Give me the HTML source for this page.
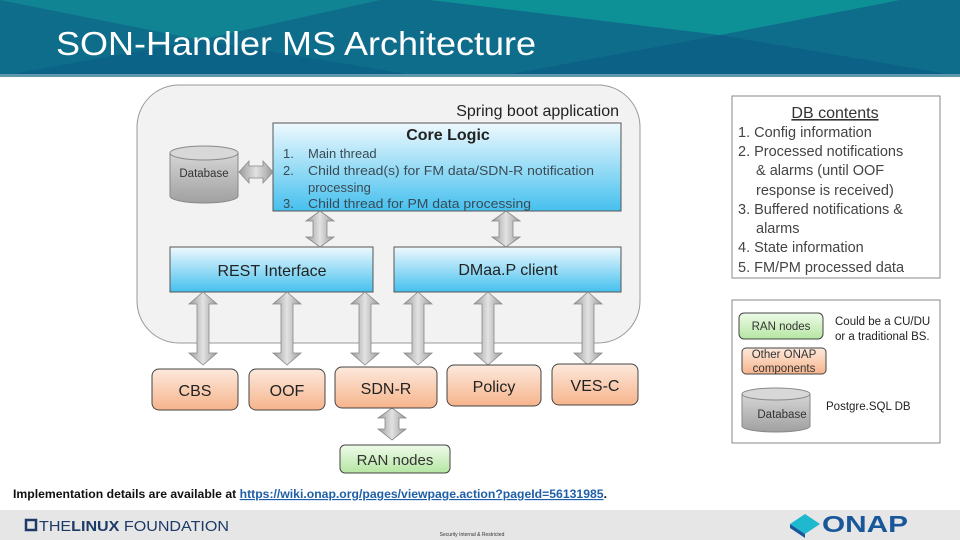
<!DOCTYPE html>
<html><head><meta charset="utf-8"><style>
body{margin:0;width:960px;height:540px;overflow:hidden;background:#fff;font-family:"Liberation Sans",sans-serif}
svg{display:block}
</style></head><body>
<svg width="960" height="540" viewBox="0 0 960 540" xmlns="http://www.w3.org/2000/svg" font-family="Liberation Sans, sans-serif">
<defs>
<linearGradient id="blue" x1="0" y1="0" x2="0" y2="1"><stop offset="0" stop-color="#eef9fe"/><stop offset="1" stop-color="#45c0ee"/></linearGradient>
<linearGradient id="orange" x1="0" y1="0" x2="0" y2="1"><stop offset="0" stop-color="#fde9dc"/><stop offset="1" stop-color="#f6b48c"/></linearGradient>
<linearGradient id="green" x1="0" y1="0" x2="0" y2="1"><stop offset="0" stop-color="#eefbe9"/><stop offset="1" stop-color="#b5e6a2"/></linearGradient>
<linearGradient id="gray" x1="0" y1="0" x2="1" y2="0"><stop offset="0" stop-color="#9a9a9a"/><stop offset="0.5" stop-color="#e2e2e2"/><stop offset="1" stop-color="#9a9a9a"/></linearGradient>
<linearGradient id="cyl" x1="0" y1="0" x2="0" y2="1"><stop offset="0" stop-color="#d6d6d6"/><stop offset="1" stop-color="#a0a0a0"/></linearGradient>
</defs>
<!-- header -->
<rect x="0" y="0" width="960" height="76" fill="#0f6d8c"/>
<polygon points="0,0 380,0 200,40" fill="#138f96" opacity="0.7"/>
<polygon points="430,0 900,0 720,35" fill="#0e9a98" opacity="0.8"/>
<polygon points="0,76 200,40 420,76" fill="#0b5f86" opacity="0.7"/>
<polygon points="500,76 720,35 960,76" fill="#0b5d85" opacity="0.7"/>
<rect x="0" y="74" width="960" height="3" fill="#5f98ad"/>
<text x="56" y="55" font-size="33" fill="#fff" textLength="480" lengthAdjust="spacingAndGlyphs">SON-Handler MS Architecture</text>

<!-- big container -->
<rect x="137" y="85" width="503" height="258" rx="42" fill="#f2f2f2" stroke="#999" stroke-width="1"/>
<text x="619" y="116" font-size="16" fill="#222" text-anchor="end">Spring boot application</text>

<!-- core logic -->
<rect x="273" y="123" width="348" height="88" fill="url(#blue)" stroke="#555" stroke-width="1"/>
<text x="448" y="140" font-size="16" font-weight="bold" text-anchor="middle" fill="#222">Core Logic</text>
<g font-size="13" fill="#3a4a55">
<text x="283" y="158">1.</text><text x="308" y="158">Main thread</text>
<text x="283" y="175">2.</text><text x="308" y="175" textLength="286" lengthAdjust="spacingAndGlyphs">Child thread(s) for FM data/SDN-R notification</text>
<text x="308" y="192">processing</text>
<text x="283" y="208">3.</text><text x="308" y="208" textLength="223" lengthAdjust="spacingAndGlyphs">Child thread for PM data processing</text>
</g>
<!-- database -->
<path d="M170,153 L170,196 A34,7 0 0 0 238,196 L238,153 Z" fill="url(#cyl)" stroke="#888"/>
<ellipse cx="204" cy="153" rx="34" ry="7" fill="#d8d8d8" stroke="#888"/>
<text x="204" y="177" font-size="11.5" text-anchor="middle" fill="#333">Database</text>
<path d="M239,172 L249,161 L249,166 L263,166 L263,161 L273,172 L263,183 L263,178 L249,178 L249,183 Z" fill="url(#gray)" stroke="#888" stroke-width="0.8"/>

<!-- REST / DMaaP -->
<rect x="170" y="247" width="203" height="45" fill="url(#blue)" stroke="#555"/>
<text x="272" y="276" font-size="16" text-anchor="middle" fill="#222">REST Interface</text>
<rect x="394" y="247" width="227" height="45" fill="url(#blue)" stroke="#555"/>
<text x="508" y="275" font-size="16" text-anchor="middle" fill="#222">DMaa.P client</text>

<g fill="url(#gray)" stroke="#888" stroke-width="0.8">
<path d="M320,211 L334,221 L327,221 L327,237 L334,237 L320,247 L306,237 L313,237 L313,221 L306,221 Z"/>
<path d="M506,211 L520,221 L513,221 L513,237 L520,237 L506,247 L492,237 L499,237 L499,221 L492,221 Z"/>
<path d="M203,292 L217,304 L209,304 L209,353 L217,353 L203,365 L189,353 L197,353 L197,304 L189,304 Z"/>
<path d="M287,292 L301,304 L293,304 L293,353 L301,353 L287,365 L273,353 L281,353 L281,304 L273,304 Z"/>
<path d="M365,292 L379,304 L371,304 L371,353 L379,353 L365,365 L351,353 L359,353 L359,304 L351,304 Z"/>
<path d="M418,292 L432,304 L424,304 L424,353 L432,353 L418,365 L404,353 L412,353 L412,304 L404,304 Z"/>
<path d="M488,292 L502,304 L494,304 L494,353 L502,353 L488,365 L474,353 L482,353 L482,304 L474,304 Z"/>
<path d="M588,292 L602,304 L594,304 L594,353 L602,353 L588,365 L574,353 L582,353 L582,304 L574,304 Z"/>
<path d="M392,408 L406,418 L399,418 L399,429 L406,429 L392,440 L378,429 L385,429 L385,418 L378,418 Z"/>
</g>

<!-- ONAP components -->
<g stroke="#444" stroke-width="1" fill="url(#orange)">
<rect x="152" y="369" width="86" height="41" rx="7"/>
<rect x="249" y="369" width="76" height="41" rx="7"/>
<rect x="335" y="367" width="102" height="41" rx="7"/>
<rect x="447" y="365" width="94" height="41" rx="7"/>
<rect x="552" y="364" width="86" height="41" rx="7"/>
</g>
<g font-size="16" text-anchor="middle" fill="#222">
<text x="195" y="396">CBS</text>
<text x="287" y="396">OOF</text>
<text x="386" y="394">SDN-R</text>
<text x="494" y="392">Policy</text>
<text x="595" y="391">VES-C</text>
</g>
<rect x="340" y="445" width="110" height="28" rx="5" fill="url(#green)" stroke="#444"/>
<text x="395" y="465" font-size="15" text-anchor="middle" fill="#333">RAN nodes</text>

<!-- DB contents -->
<rect x="732" y="96" width="208" height="182" fill="#fff" stroke="#888"/>
<text x="835" y="118" font-size="16" text-anchor="middle" fill="#333" text-decoration="underline">DB contents</text>
<g font-size="14.5" fill="#444">
<text x="738" y="137">1. Config information</text>
<text x="738" y="156">2. Processed notifications</text>
<text x="756" y="175">&amp; alarms (until OOF</text>
<text x="756" y="195">response is received)</text>
<text x="738" y="214">3. Buffered notifications &amp;</text>
<text x="756" y="233">alarms</text>
<text x="738" y="252">4. State information</text>
<text x="738" y="272">5. FM/PM processed data</text>
</g>

<!-- legend -->
<rect x="732" y="300" width="208" height="143" fill="#fff" stroke="#888"/>
<rect x="739" y="313" width="84" height="26" rx="5" fill="url(#green)" stroke="#444"/>
<text x="781" y="330" font-size="11.5" text-anchor="middle" fill="#333">RAN nodes</text>
<text x="835" y="325" font-size="11.5" fill="#222">Could be a CU/DU</text>
<text x="835" y="340" font-size="11.5" fill="#222">or a traditional BS.</text>
<rect x="742" y="348" width="84" height="26" rx="4" fill="url(#orange)" stroke="#444"/>
<text x="784" y="358" font-size="11.5" text-anchor="middle" fill="#333">Other ONAP</text>
<text x="784" y="372" font-size="11.5" text-anchor="middle" fill="#333">components</text>
<path d="M742,394 L742,426 A34,6 0 0 0 810,426 L810,394 Z" fill="url(#cyl)" stroke="#888"/>
<ellipse cx="776" cy="394" rx="34" ry="6" fill="#d8d8d8" stroke="#888"/>
<text x="782" y="418" font-size="11.5" text-anchor="middle" fill="#333">Database</text>
<text x="826" y="410" font-size="11.5" fill="#222">Postgre.SQL DB</text>

<!-- footer -->
<text x="13" y="498" font-size="11.5" font-weight="bold" fill="#111" textLength="594" lengthAdjust="spacingAndGlyphs">Implementation details are available at <tspan fill="#1f5fa8" text-decoration="underline">https://wiki.onap.org/pages/viewpage.action?pageId=56131985</tspan>.</text>
<rect x="0" y="510" width="960" height="30" fill="#e6e6e6"/>
<rect x="26" y="520" width="10" height="10" fill="none" stroke="#1d3b66" stroke-width="2.5"/>
<text x="39" y="531" font-size="15" fill="#1d3b66" textLength="190" lengthAdjust="spacingAndGlyphs">THE<tspan font-weight="bold">LINUX</tspan> FOUNDATION</text>
<text x="472" y="536" font-size="5" fill="#333" text-anchor="middle">Security Internal &amp; Restricted</text>
<polygon points="790,524 805,514 820,524 805,534" fill="#1eb8cf"/>
<polygon points="790,524 805,534 805,538 790,528" fill="#17579a"/>
<text x="822" y="532" font-size="23" font-weight="bold" fill="#17579a" textLength="86" lengthAdjust="spacingAndGlyphs">ONAP</text>
</svg>
</body></html>
